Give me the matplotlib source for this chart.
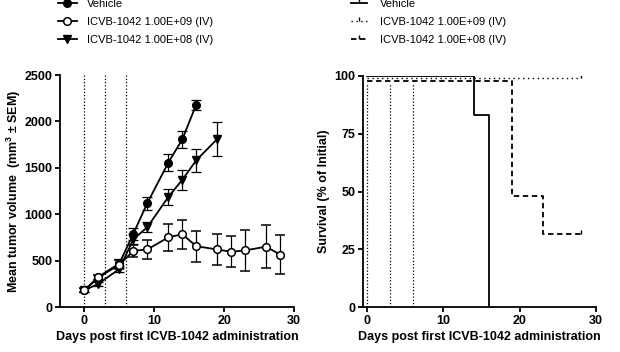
import matplotlib
matplotlib.use("Agg")
import matplotlib.pyplot as plt
from matplotlib.lines import Line2D

plt.rcParams["font.family"] = ["Liberation Sans", "DejaVu Sans"]
plt.rcParams["mathtext.fontset"] = "custom"
plt.rcParams["mathtext.bf"] = "Liberation Sans:bold"
plt.rcParams["mathtext.rm"] = "Liberation Sans"

# Tumor volume (mean +/- SEM) by day
days_vehicle = [0, 2, 5, 7, 9, 12, 14, 16]
vol_vehicle = [180, 325, 470, 790, 1120, 1555, 1805, 2180]
sem_vehicle = [20, 25, 45, 65, 70, 90, 87, 54]

days_e9 = [0, 2, 5, 7, 9, 12, 14, 16, 19, 21, 23, 26, 28]
vol_e9 = [180, 320, 455, 605, 620, 750, 785, 655, 620, 595, 610, 650, 565]
sem_e9 = [20, 25, 50, 68, 100, 148, 155, 165, 163, 165, 223, 235, 207]

days_e8 = [0, 2, 5, 7, 9, 12, 14, 16, 19]
vol_e8 = [180, 250, 410, 730, 860, 1185, 1370, 1580, 1810]
sem_e8 = [20, 20, 35, 55, 57, 86, 110, 125, 185]

# Survival curves (step functions)
surv_days_vehicle = [0, 14, 16]
surv_vehicle = [100, 83.3, 0]
surv_days_e9 = [0, 28]
surv_e9 = [99.2, 99.2]
surv_days_e8 = [0, 19, 23, 28]
surv_e8 = [98, 48, 31.5, 31.5]

dosing_days = [0, 3, 6]
labels = ["Vehicle", "ICVB-1042 1.00E+09 (IV)", "ICVB-1042 1.00E+08 (IV)"]

FS = 9
LW = 1.3
DOT = (0, (1, 1.6))


def style_axes(ax):
    for side in ["top", "right"]:
        ax.spines[side].set_visible(False)
    for side in ["left", "bottom"]:
        ax.spines[side].set_linewidth(LW)
    ax.tick_params(direction="out", length=3.5, width=LW, labelsize=FS, pad=2)
    for lab in ax.get_xticklabels() + ax.get_yticklabels():
        lab.set_fontweight("bold")


fig = plt.figure(figsize=(6.2, 3.52), dpi=100)

# ---- tumor volume ----
ax1 = fig.add_axes([60 / 620, 1 - 307 / 352, 234 / 620, 232 / 352])
for d in dosing_days:
    ax1.plot([d, d], [0, 2500], ls=DOT, color="black", lw=0.9)

kw = dict(color="black", lw=LW, elinewidth=0.9, capsize=3.5, capthick=0.9, ms=5.5)
ax1.errorbar(days_vehicle, vol_vehicle, yerr=sem_vehicle, marker="o",
             mfc="black", mec="black", zorder=3, **kw)
ax1.errorbar(days_e8, vol_e8, yerr=sem_e8, marker="v",
             mfc="black", mec="black", zorder=3, **kw)
ax1.errorbar(days_e9, vol_e9, yerr=sem_e9, marker="o",
             mfc="white", mec="black", mew=1.1, zorder=4, **kw)

ax1.set_xlim(-3.5, 30)
ax1.set_ylim(0, 2500)
ax1.set_xticks([0, 10, 20, 30])
ax1.set_yticks([0, 500, 1000, 1500, 2000, 2500])
style_axes(ax1)
ax1.set_xlabel("Days post first ICVB-1042 administration", fontsize=FS,
               fontweight="bold", labelpad=3)
ax1.set_ylabel(r"Mean tumor volume  (mm$^{\mathbf{3}}$ ± SEM)", fontsize=FS,
               fontweight="bold", labelpad=1)

h1 = [
    Line2D([], [], color="black", lw=LW, marker="o", ms=5.5, mfc="black"),
    Line2D([], [], color="black", lw=LW, marker="o", ms=5.5, mfc="white", mew=1.1),
    Line2D([], [], color="black", lw=LW, marker="v", ms=5.5, mfc="black"),
]
fig.legend(h1, labels, loc="upper left", bbox_to_anchor=(58 / 620, 1 + 1 / 352),
           frameon=False, fontsize=8, handlelength=1.7, handletextpad=0.9,
           labelspacing=0.7, borderpad=0, borderaxespad=0)

# ---- survival ----
ax2 = fig.add_axes([363 / 620, 1 - 307 / 352, 233 / 620, 231 / 352])
for d in dosing_days:
    ax2.plot([d, d], [0, 97], ls=DOT, color="black", lw=0.9)

ax2.step(surv_days_vehicle, surv_vehicle, where="post", color="black", lw=LW)
ax2.step(surv_days_e9, surv_e9, where="post", color="black", lw=1.0,
         ls=(0, (1, 2.5)))
ax2.step(surv_days_e8, surv_e8, where="post", color="black", lw=LW,
         ls=(0, (3, 2)))
# censor ticks at the end of follow-up
ax2.plot([surv_days_e9[-1]], [surv_e9[-1]], marker=2, color="black", ms=3, mew=1.0)
ax2.plot([surv_days_e8[-1]], [surv_e8[-1]], marker=2, color="black", ms=3, mew=1.0)

ax2.set_xlim(-0.5, 30)
ax2.set_ylim(0, 100)
ax2.set_xticks([0, 10, 20, 30])
ax2.set_yticks([0, 25, 50, 75, 100])
style_axes(ax2)
ax2.set_xlabel("Days post first ICVB-1042 administration", fontsize=FS,
               fontweight="bold", labelpad=3)
ax2.set_ylabel("Survival (% of Initial)", fontsize=FS, fontweight="bold",
               labelpad=3)

h2 = [
    Line2D([], [], color="black", lw=LW, marker=2, ms=3, mew=1.0),
    Line2D([], [], color="black", lw=1.0, ls=(0, (1, 2.5)), marker=2, ms=3, mew=1.0),
    Line2D([], [], color="black", lw=LW, ls=(0, (3, 2)), marker=2, ms=3, mew=1.0),
]
fig.legend(h2, labels, loc="upper left", bbox_to_anchor=(351 / 620, 1 + 1 / 352),
           frameon=False, fontsize=8, handlelength=1.4, handletextpad=1.2,
           labelspacing=0.7, borderpad=0, borderaxespad=0)

fig.savefig("out.png", dpi=100)
